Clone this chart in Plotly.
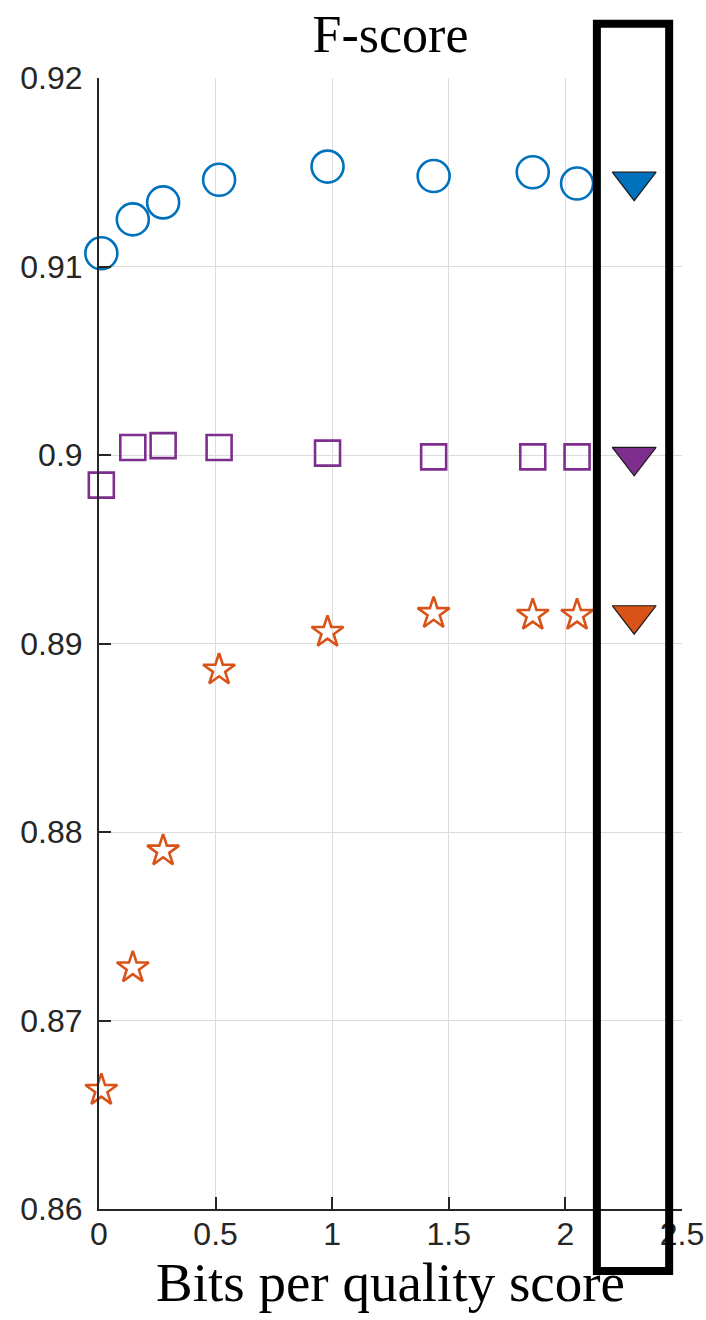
import plotly.graph_objects as go

# Rate (bits per quality score) of each lossy setting
bits = [0.01, 0.145, 0.275, 0.515, 0.98, 1.435, 1.86, 2.05]
# F-score of each variant-calling pipeline at those rates
fscore_blue = [0.9107, 0.9125, 0.9134, 0.9146, 0.9153, 0.9148, 0.9150, 0.9144]
fscore_purple = [0.8984, 0.9004, 0.9005, 0.9004, 0.9001, 0.8999, 0.8999, 0.8999]
fscore_orange = [0.8663, 0.8728, 0.8790, 0.8886, 0.8906, 0.8916, 0.8915, 0.8915]
# Lossless reference (original qualities)
lossless_bits = 2.295
lossless_fscore = [0.9145, 0.8999, 0.8915]

x_ticks = [0, 0.5, 1, 1.5, 2, 2.5]
x_ticktext = ["0", "0.5", "1", "1.5", "2", "2.5"]
y_ticks = [0.86, 0.87, 0.88, 0.89, 0.90, 0.91, 0.92]
y_ticktext = ["0.86", "0.87", "0.88", "0.89", "0.9", "0.91", "0.92"]

BLUE = "#0072BD"
PURPLE = "#7E2F8E"
ORANGE = "#D95319"
AX = "#262626"

fig = go.Figure()

fig.add_trace(go.Scatter(
    x=bits, y=fscore_blue, mode="markers", cliponaxis=False,
    marker=dict(symbol="circle-open", size=32, color=BLUE, line=dict(width=2.6, color=BLUE)),
))
fig.add_trace(go.Scatter(
    x=bits, y=fscore_purple, mode="markers", cliponaxis=False,
    marker=dict(symbol="square-open", size=25, color=PURPLE, line=dict(width=2.6, color=PURPLE)),
))
fig.add_trace(go.Scatter(
    x=bits, y=fscore_orange, mode="markers", cliponaxis=False,
    marker=dict(symbol="star-open", size=24, color=ORANGE, line=dict(width=2.6, color=ORANGE)),
))
fig.add_trace(go.Scatter(
    x=[lossless_bits] * 3, y=lossless_fscore, mode="markers", cliponaxis=False,
    marker=dict(symbol="triangle-down", size=38, color=[BLUE, PURPLE, ORANGE],
                line=dict(width=1.2, color="#1a1a1a")),
))

# Highlight box around the lossless column
fig.add_shape(
    type="rect", xref="x domain", yref="y domain",
    x0=0.854, x1=0.978, y0=-0.0548, y1=1.048,
    line=dict(color="black", width=8), fillcolor="rgba(0,0,0,0)", layer="above",
)

fig.update_layout(
    width=706, height=1320,
    margin=dict(l=99, r=24, t=78, b=111, autoexpand=False),
    paper_bgcolor="white", plot_bgcolor="white",
    showlegend=False,
    title=dict(
        text="F-score", x=(99 + 682) / 2 / 706, xanchor="center",
        y=1 - 34 / 1320, yanchor="middle", yref="container",
        font=dict(family="Liberation Serif", size=52, color="black"),
    ),
    font=dict(family="Liberation Sans", color=AX),
)

fig.update_xaxes(
    range=[0, 2.5], tickvals=x_ticks, ticktext=x_ticktext,
    ticks="inside", ticklen=12, tickwidth=1.5, tickcolor=AX,
    showline=True, linecolor=AX, linewidth=2,
    showgrid=True, gridcolor="#dcdcdc", gridwidth=1,
    zeroline=False, tickfont=dict(size=32, color=AX),
    ticklabelstandoff=-4, automargin=False,
    title=dict(text="Bits per quality score",
               font=dict(family="Liberation Serif", size=55, color="black"),
               standoff=0),
)
fig.update_yaxes(
    range=[0.86, 0.92], tickvals=y_ticks, ticktext=y_ticktext,
    ticks="inside", ticklen=12, tickwidth=1.5, tickcolor=AX,
    showline=True, linecolor=AX, linewidth=2,
    showgrid=True, gridcolor="#dcdcdc", gridwidth=1,
    zeroline=False, tickfont=dict(size=32, color=AX),
    ticklabelstandoff=8, automargin=False,
)

fig.write_html("out.html")
